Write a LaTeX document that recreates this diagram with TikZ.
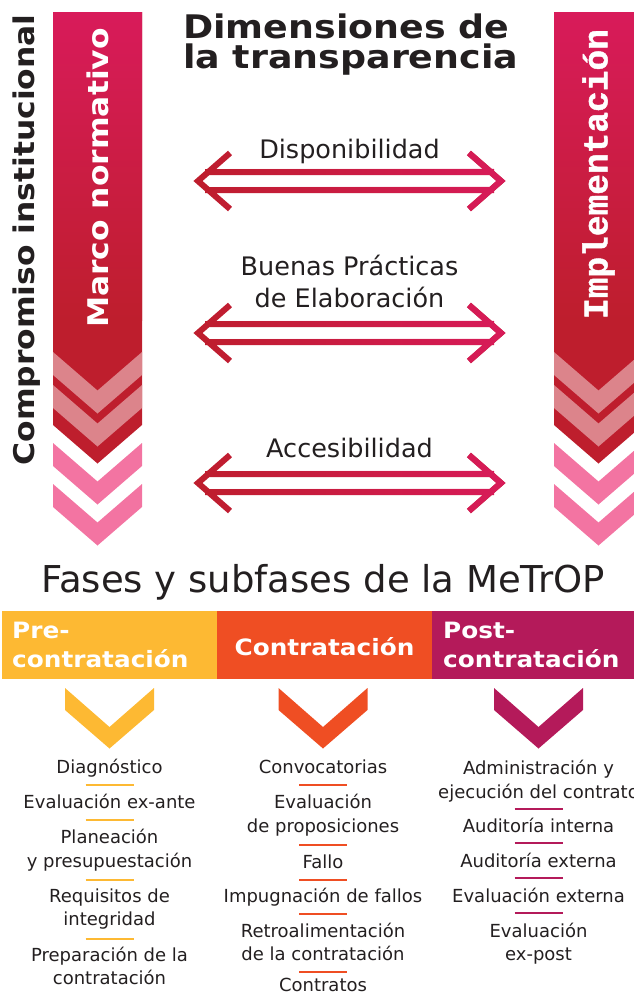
\documentclass[tikz,border=0pt]{standalone}
\usepackage{fontspec}
\setmainfont{DejaVu Sans}
\newfontfamily\widefam{DejaVu Sans}[FakeStretch=1.1]
\newfontfamily\titlefam{DejaVu Sans}[FakeStretch=1.12]
\newfontfamily\monofam{Liberation Mono}[FakeBold=1.3]
\usetikzlibrary{fadings}
\definecolor{txt}{HTML}{231F20}
\definecolor{crimsontop}{HTML}{D81B5A}
\definecolor{crimsonbot}{HTML}{BE1E2D}
\definecolor{bandlight}{HTML}{DC848B}
\definecolor{bandpink}{HTML}{F374A2}
\definecolor{phasepre}{HTML}{FDB933}
\definecolor{phasecon}{HTML}{EF4E23}
\definecolor{phasepost}{HTML}{B41A5A}
\newcommand\chevband[2]{\fill[#1] (-44.5,#2) -- (0,#2+38.5) -- (44.5,#2) -- (44.5,#2+23) -- (0,#2+61.5) -- (-44.5,#2+23) -- cycle;}
\newcommand\bannerat[1]{%
  \begin{scope}[xshift=#1pt]
    \fill[crimsonbot] (-44.5,12) -- (44.5,12) -- (44.5,425) -- (0,463.5) -- (-44.5,425) -- cycle;
    \shade[top color=crimsontop, bottom color=crimsonbot] (-44.5,12) rectangle (44.5,320);
    \chevband{bandlight}{352}
    \chevband{bandlight}{385}
    \chevband{bandpink}{443}
    \chevband{bandpink}{484}
  \end{scope}}
\newcommand\dblarrow[1]{%
  \draw[crimsonbot, arrowline] (230,#1-28) -- (198,#1) -- (230,#1+28)
    (205,#1-9) -- (494,#1-9) (205,#1+9) -- (494,#1+9)
    (469,#1-28) -- (501,#1) -- (469,#1+28);
  \draw[crimsontop, arrowline, path fading=west] (230,#1-28) -- (198,#1) -- (230,#1+28)
    (205,#1-9) -- (494,#1-9) (205,#1+9) -- (494,#1+9)
    (469,#1-28) -- (501,#1) -- (469,#1+28);}
\newcommand\phasechev[2]{\fill[#1] (#2-44.5,688) -- (#2,727) -- (#2+44.5,688) -- (#2+44.5,710) -- (#2,748.5) -- (#2-44.5,710) -- cycle;}
\begin{document}
\begin{tikzpicture}[x=1pt,y=-1pt,
  arrowline/.style={line width=6pt, line join=miter},
  lbl/.style={font=\fontsize{25.5}{30}\selectfont, text=txt, anchor=base, inner sep=0pt},
  item/.style={font=\fontsize{18}{24}\selectfont, text=txt, anchor=base, inner sep=0pt},
  phasehd/.style={font=\widefam\bfseries\fontsize{22.5}{29}\selectfont, text=white, inner sep=0pt},
  titletxt/.style={font=\titlefam\bfseries\fontsize{32.5}{30}\selectfont, text=txt, anchor=base west, inner sep=0pt},
  vtxt/.style={font=\widefam\bfseries\fontsize{28.5}{30}\selectfont, rotate=90, inner sep=0pt},
  sep/.style={line width=2pt}]
\useasboundingbox (0,0) rectangle (634,996);
\clip (0,0) rectangle (634,996);
% banners
\bannerat{97.5}
\bannerat{598.5}
\node[vtxt, text=txt] (compromiso) at (27,240) {Compromiso institucional};
\node[vtxt, text=white] (marco) at (97.5,178) {Marco normativo};
\node[font=\monofam\bfseries\fontsize{34.5}{30}\selectfont, rotate=90, inner sep=0pt, text=white] (impl) at (598.5,174) {Implementación};
% title
\node[titletxt] (t1) at (183,38) {Dimensiones de};
\node[titletxt] (t2) at (183,68) {la transparencia};
% arrows
\dblarrow{181}
\dblarrow{333}
\dblarrow{483}
\node[lbl] (disp) at (349.5,158) {Disponibilidad};
\node[lbl] (buenas1) at (349.5,275) {Buenas Prácticas};
\node[lbl] (buenas2) at (349.5,307) {de Elaboración};
\node[lbl] (acc) at (349.5,457) {Accesibilidad};
% subtitle
\node[font=\fontsize{37}{40}\selectfont, text=txt, anchor=base, inner sep=0pt] (fases) at (323,592) {Fases y subfases de la MeTrOP};
% phase headers
\fill[phasepre] (2,611) rectangle (217,679);
\fill[phasecon] (217,611) rectangle (432,679);
\fill[phasepost] (432,611) rectangle (634,679);
\node[phasehd, anchor=base west] (pre1) at (12,638) {Pre-};
\node[phasehd, anchor=base west] (pre2) at (12,667) {contratación};
\node[phasehd, anchor=base] (con) at (324.5,655) {Contratación};
\node[phasehd, anchor=base west] (post1) at (443,638) {Post-};
\node[phasehd, anchor=base west] (post2) at (443,667) {contratación};
\phasechev{phasepre}{109.5}
\phasechev{phasecon}{323}
\phasechev{phasepost}{538.5}
% column 1
\node[item] (a1) at (109.5,773) {Diagnóstico};
\draw[sep, phasepre] (85.5,785) -- (133.5,785);
\node[item] (a2) at (109.5,808) {Evaluación ex-ante};
\draw[sep, phasepre] (85.5,820) -- (133.5,820);
\node[item] (a3) at (109.5,843) {Planeación};
\node[item] (a3b) at (109.5,867) {y presupuestación};
\draw[sep, phasepre] (85.5,880) -- (133.5,880);
\node[item] (a4) at (109.5,902) {Requisitos de};
\node[item] (a4b) at (109.5,925) {integridad};
\draw[sep, phasepre] (85.5,939) -- (133.5,939);
\node[item] (a5) at (109.5,961) {Preparación de la};
\node[item] (a5b) at (109.5,984) {contratación};
% column 2
\node[item] (b1) at (323,773) {Convocatorias};
\draw[sep, phasecon] (299,785) -- (347,785);
\node[item] (b2) at (323,808) {Evaluación};
\node[item] (b2b) at (323,832) {de proposiciones};
\draw[sep, phasecon] (299,845) -- (347,845);
\node[item] (b3) at (323,868) {Fallo};
\draw[sep, phasecon] (299,880) -- (347,880);
\node[item] (b4) at (323,902) {Impugnación de fallos};
\draw[sep, phasecon] (299,914) -- (347,914);
\node[item] (b5) at (323,937) {Retroalimentación};
\node[item] (b5b) at (323,960) {de la contratación};
\draw[sep, phasecon] (299,972) -- (347,972);
\node[item] (b6) at (323,991) {Contratos};
% column 3
\node[item] (c1) at (538.5,774) {Administración y};
\node[item] (c1b) at (538.5,798) {ejecución del contrato};
\draw[sep, phasepost] (514.5,809) -- (562.5,809);
\node[item] (c2) at (538.5,832) {Auditoría interna};
\draw[sep, phasepost] (514.5,843) -- (562.5,843);
\node[item] (c3) at (538.5,867) {Auditoría externa};
\draw[sep, phasepost] (514.5,878) -- (562.5,878);
\node[item] (c4) at (538.5,902) {Evaluación externa};
\draw[sep, phasepost] (514.5,913) -- (562.5,913);
\node[item] (c5) at (538.5,937) {Evaluación};
\node[item] (c5b) at (538.5,960) {ex-post};
\end{tikzpicture}
\end{document}
